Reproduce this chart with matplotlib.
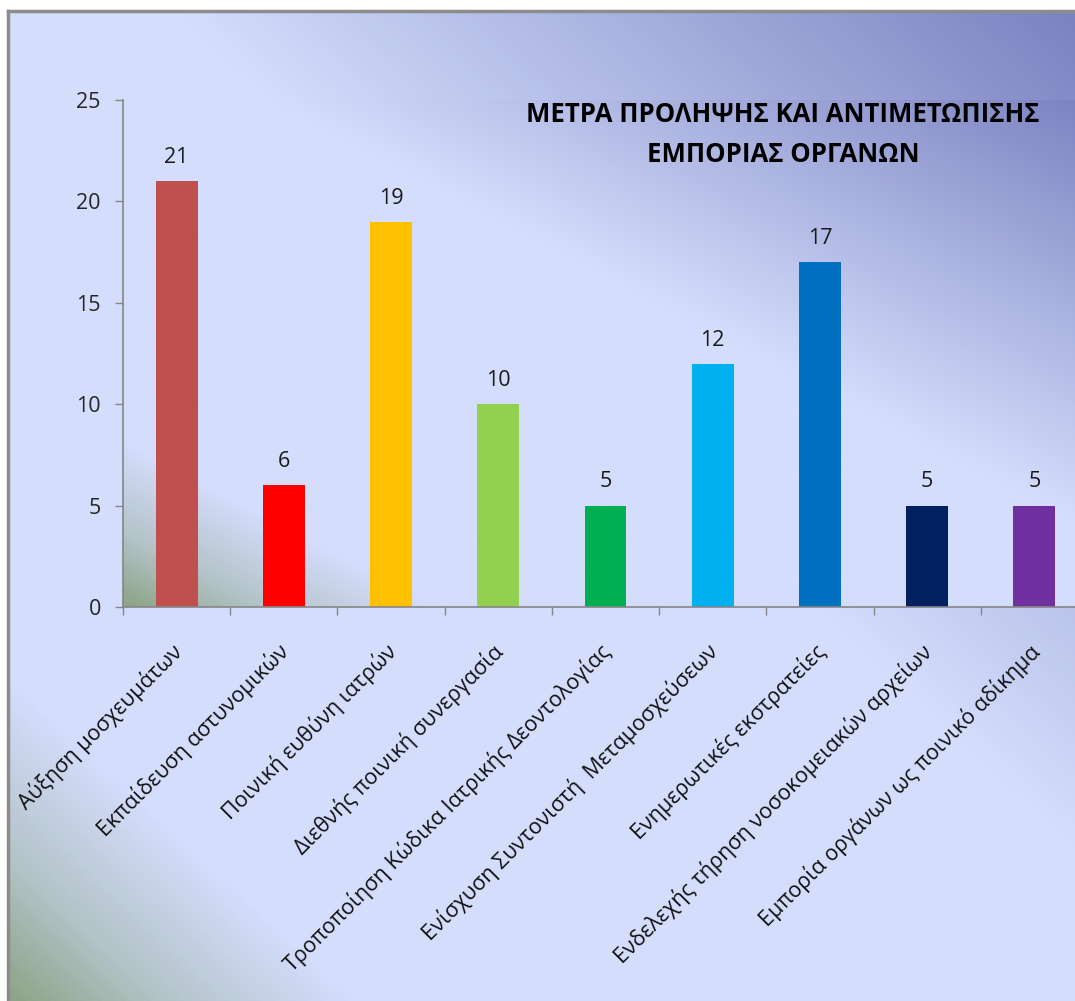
import numpy as np
import matplotlib.pyplot as plt
import matplotlib.transforms as mtransforms
from matplotlib.colors import LinearSegmentedColormap

plt.rcParams['font.family'] = ['Open Sans', 'DejaVu Sans']

# μέτρα και πλήθος αναφορών
categories = [
    'Αύξηση μοσχευμάτων',
    'Εκπαίδευση αστυνομικών',
    'Ποινική ευθύνη ιατρών',
    'Διεθνής ποινική συνεργασία',
    'Τροποποίηση Κώδικα Ιατρικής Δεοντολογίας',
    'Ενίσχυση Συντονιστή  Μεταμοσχεύσεων',
    'Ενημερωτικές εκστρατείες',
    'Ενδελεχής τήρηση νοσοκομειακών αρχείων',
    'Εμπορία οργάνων ως ποινικό αδίκημα',
]
values = [21, 6, 19, 10, 5, 12, 17, 5, 5]
bar_colors = ['#C0504D', '#FF0000', '#FFC000', '#92D050', '#00B050',
              '#00B0F0', '#0070C0', '#002060', '#7030A0']
title_lines = ['ΜΕΤΡΑ ΠΡΟΛΗΨΗΣ ΚΑΙ ΑΝΤΙΜΕΤΩΠΙΣΗΣ', 'ΕΜΠΟΡΙΑΣ ΟΡΓΑΝΩΝ']
y_ticks = [0, 5, 10, 15, 20, 25]

W, H = 1075, 1001
fig = plt.figure(figsize=(W / 100, H / 100), dpi=100, facecolor='white')

# διαγώνια διαβάθμιση: πράσινο κάτω αριστερά, ανοιχτό στη μέση, μωβ πάνω δεξιά
grad = LinearSegmentedColormap.from_list('bg', [
    (0.0, '#8DA487'), (0.07, '#B4C3C8'), (0.16, '#D4DDFC'),
    (0.58, '#D4DDFC'), (1.0, '#7C83C1')])


def gradient(ax, zorder=0):
    u = np.linspace(0, 1, 300)
    uu, vv = np.meshgrid(u, u)
    t = (uu + vv) / 2
    ax.imshow(t, cmap=grad, vmin=0, vmax=1, origin='lower', aspect='auto',
              extent=[0, 1, 0, 1], transform=ax.transAxes, zorder=zorder,
              interpolation='bilinear')


# φόντο περιοχής γραφήματος με πλαίσιο
bg = fig.add_axes([8 / W, 0, 1 - 8 / W, 1 - 11 / H])
bg.set_axis_off()
gradient(bg)
bg.plot([0, 0], [0, 1], color='#8C8C8C', lw=2.5, transform=bg.transAxes, clip_on=False)
bg.plot([0, 1], [1, 1], color='#8C8C8C', lw=2.5, transform=bg.transAxes, clip_on=False)

ax = fig.add_axes([123 / W, 1 - 607 / H, 965 / W, 507 / H])
ax.set_facecolor('none')
gradient(ax)

x = np.arange(len(values))
ax.bar(x, values, width=0.39, color=bar_colors, zorder=2)
for xi, v in zip(x, values):
    ax.annotate(str(v), (xi, v), xytext=(0, 17), textcoords='offset points',
                ha='center', va='center', fontsize=15.5, color='#1a1a1a')

ax.set_xlim(-0.5, len(values) - 0.5)
ax.set_ylim(0, 25)
ax.set_yticks(y_ticks)
ax.tick_params(axis='y', length=6, width=1, color='#868686', pad=10,
               labelsize=15.5, labelcolor='#262626')

ax.set_xticks(x)
ax.set_xticks(np.arange(len(values) + 1) - 0.5, minor=True)
ax.tick_params(axis='x', which='major', length=0, pad=24, labelsize=15.5,
               labelcolor='#111111')
ax.tick_params(axis='x', which='minor', length=6, width=1, color='#868686')
ax.set_xticklabels(categories, rotation=45, ha='right', rotation_mode='anchor')
shift = mtransforms.ScaledTranslation(-6 / 100, 0, fig.dpi_scale_trans)
for lab in ax.get_xticklabels():
    lab.set_transform(lab.get_transform() + shift)

for side in ['top', 'right']:
    ax.spines[side].set_visible(False)
for side in ['left', 'bottom']:
    ax.spines[side].set_color('#868686')
    ax.spines[side].set_linewidth(1.2)

fig.text(783 / W, 1 - 115 / H, title_lines[0], ha='center', va='center',
         fontsize=18.5, fontweight='bold', color='black')
fig.text(783 / W, 1 - 155 / H, title_lines[1], ha='center', va='center',
         fontsize=18.5, fontweight='bold', color='black')

fig.savefig('out.png', dpi=100, facecolor='white')
